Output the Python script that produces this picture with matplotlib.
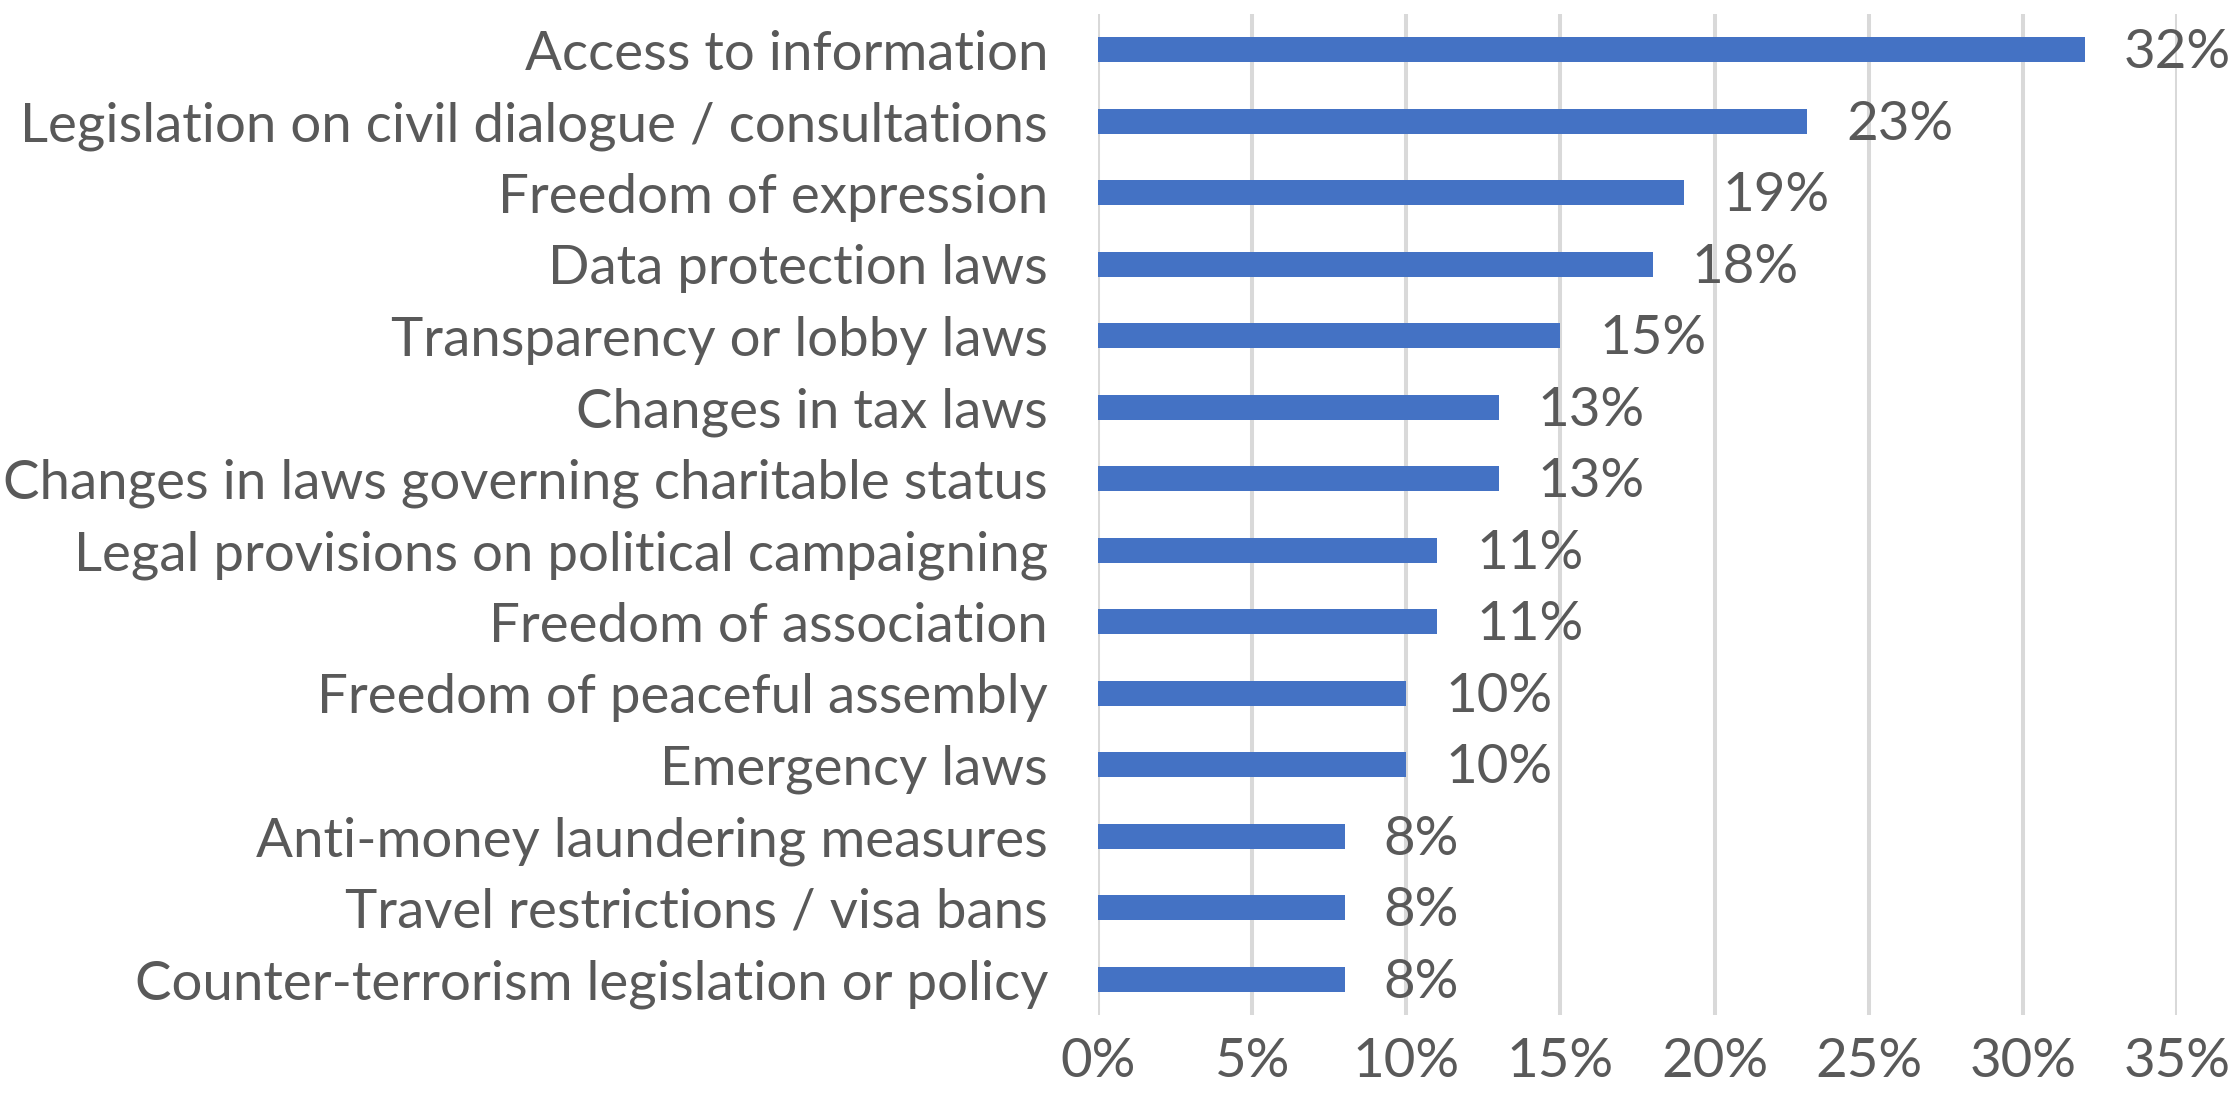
import matplotlib
matplotlib.use("Agg")
import matplotlib.pyplot as plt
import numpy as np

# Data (top to bottom as shown)
categories = [
    "Access to information",
    "Legislation on civil dialogue / consultations",
    "Freedom of expression",
    "Data protection laws",
    "Transparency or lobby laws",
    "Changes in tax laws",
    "Changes in laws governing charitable status",
    "Legal provisions on political campaigning",
    "Freedom of association",
    "Freedom of peaceful assembly",
    "Emergency laws",
    "Anti-money laundering measures",
    "Travel restrictions / visa bans",
    "Counter-terrorism legislation or policy",
]
values = [32, 23, 19, 18, 15, 13, 13, 11, 11, 10, 10, 8, 8, 8]
x_ticks = [0, 5, 10, 15, 20, 25, 30, 35]

bar_color = '#4472C4'
text_color = '#595959'
grid_color = '#D9D9D9'

plt.rcParams['font.family'] = ['Lato', 'DejaVu Sans']

fig = plt.figure(figsize=(22.29, 11.13), dpi=100)
ax = fig.add_axes([0.4926, 0.088, 0.4841, 0.8994])

# pick a font size so the longest label spans about as wide as in the reference
renderer = fig.canvas.get_renderer()
probe = fig.text(0, 0, max(categories, key=len), fontsize=40)
w = probe.get_window_extent(renderer).width
probe.remove()
fs = 40 * 1026 / w

y = np.arange(len(categories))
ax.barh(y, values, height=0.345, color=bar_color, zorder=3)
ax.set_ylim(len(categories) - 0.5, -0.5)
ax.set_xlim(0, 35)

# data labels
for yi, v in zip(y, values):
    ax.annotate(f"{v}%", xy=(v, yi), xytext=(28, -2), textcoords='offset points',
                ha='left', va='center', fontsize=fs, color=text_color)

ax.set_yticks(y)
ax.set_yticklabels(categories, fontsize=fs, color=text_color)
ax.set_xticks(x_ticks)
ax.set_xticklabels([f"{t}%" for t in x_ticks], fontsize=fs, color=text_color)
ax.tick_params(axis='both', length=0)
ax.tick_params(axis='y', pad=36)
ax.tick_params(axis='x', pad=16)

ax.xaxis.grid(True, color=grid_color, linewidth=2.9, zorder=0)
ax.set_axisbelow(True)
for s in ax.spines.values():
    s.set_visible(False)

fig.savefig("out.png", dpi=100, facecolor='white')
